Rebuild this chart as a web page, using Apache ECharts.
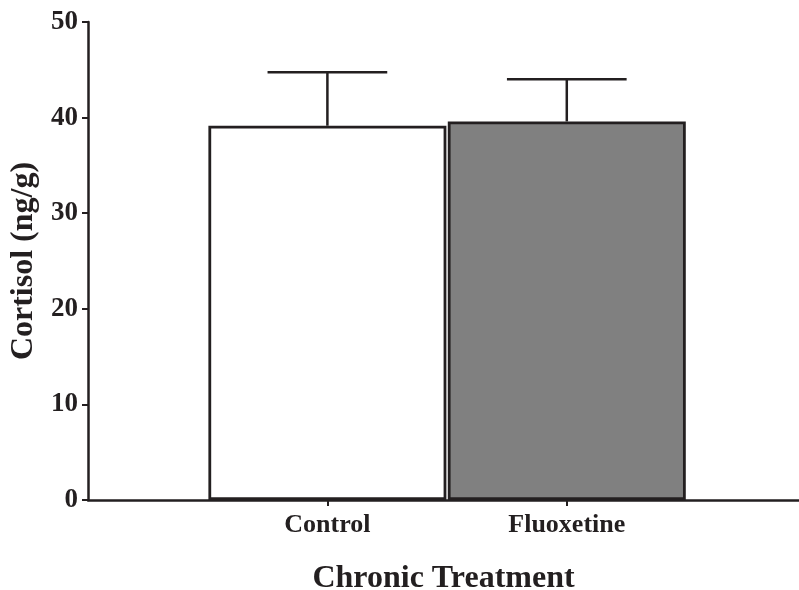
<!DOCTYPE html>
<html>
<head>
<meta charset="utf-8">
<script src="https://cdn.jsdelivr.net/npm/echarts@6/dist/echarts.min.js"></script>
<style>
html,body{margin:0;padding:0;background:#fff;}
#chart{width:799px;height:590px;}
</style>
</head>
<body>
<div id="chart"></div>
<script>
const categories = ['Control', 'Fluoxetine'];
const means = [39.15, 39.6];
const errors = [5.6, 4.4];
const yTicks = [0, 10, 20, 30, 40, 50];

const FONT = '"Liberation Serif", "Times New Roman", serif';
const INK = '#231f20';

const positions = categories.map((c, i) => i + 1);
const barData = positions.map((p, i) => [p, means[i]]);
const errData = positions.map((p, i) => [p, means[i], errors[i]]);

const chart = echarts.init(document.getElementById('chart'));
chart.setOption({
  animation: false,
  backgroundColor: '#fff',
  grid: { left: 88, right: 0, top: 22, bottom: 90, containLabel: false, outerBoundsMode: 'none' },
  xAxis: {
    type: 'value',
    min: 0,
    max: 2.97,
    interval: 1,
    name: 'Chronic Treatment',
    nameLocation: 'middle',
    nameGap: 63,
    nameTextStyle: { fontFamily: FONT, fontWeight: 'bold', fontSize: 32, color: INK },
    axisLine: { show: true, onZero: false, lineStyle: { color: INK, width: 2.5 } },
    axisTick: { show: true, customValues: positions, length: 6, lineStyle: { color: INK, width: 2 } },
    axisLabel: {
      show: true,
      customValues: positions,
      margin: 12,
      formatter: v => categories[Math.round(v) - 1] || '',
      fontFamily: FONT, fontWeight: 'bold', fontSize: 26, color: INK
    },
    splitLine: { show: false }
  },
  yAxis: {
    type: 'value',
    min: yTicks[0],
    max: yTicks[yTicks.length - 1],
    interval: 10,
    name: 'Cortisol (ng/g)',
    nameLocation: 'middle',
    nameGap: 43,
    nameRotate: 90,
    nameTextStyle: { fontFamily: FONT, fontWeight: 'bold', fontSize: 32, color: INK },
    axisLine: { show: true, lineStyle: { color: INK, width: 2.5 } },
    axisTick: { show: true, length: 6, lineStyle: { color: INK, width: 2 } },
    axisLabel: { margin: 10, fontFamily: FONT, fontWeight: 'bold', fontSize: 27, color: INK },
    splitLine: { show: false }
  },
  series: [
    {
      type: 'bar',
      data: barData,
      barWidth: 238,
      itemStyle: {
        color: p => (p.dataIndex === 0 ? '#ffffff' : '#808080'),
        borderColor: INK,
        borderWidth: 2.8
      },
      z: 2
    },
    {
      type: 'custom',
      data: errData,
      z: 3,
      renderItem: function (params, api) {
        const x = api.value(0), m = api.value(1), e = api.value(2);
        const base = api.coord([x, m]);
        const top = api.coord([x, m + e]);
        const half = api.size([1, 0])[0] * 0.25;
        const style = { stroke: INK, lineWidth: 2.5 };
        return {
          type: 'group',
          children: [
            { type: 'line', shape: { x1: base[0], y1: base[1], x2: top[0], y2: top[1] }, style },
            { type: 'line', shape: { x1: top[0] - half, y1: top[1], x2: top[0] + half, y2: top[1] }, style }
          ]
        };
      }
    }
  ]
});
</script>
</body>
</html>
